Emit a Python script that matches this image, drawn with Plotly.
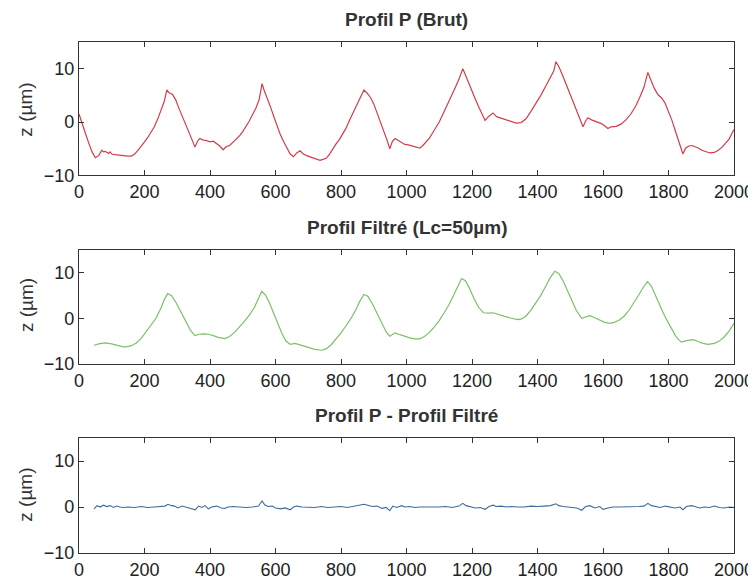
import plotly.graph_objects as go
from plotly.subplots import make_subplots

# ---------------- data ----------------
raw_x = [0, 5, 10, 20, 30, 40, 50, 60, 70, 75, 80, 90, 95, 100, 110, 120, 130, 140, 150, 160,
         170, 180, 190, 200, 210, 220, 230, 240, 250, 260, 268, 275, 285, 295, 305, 315, 325, 335,
         345, 354, 362, 369, 380, 390, 400, 410, 420, 430, 440, 450, 460, 470, 480, 490, 500, 510,
         520, 530, 540, 550, 559, 565, 575, 585, 595, 605, 615, 625, 635, 645, 655, 665, 675, 685,
         695, 705, 715, 725, 736, 745, 755, 765, 775, 785, 795, 805, 815, 825, 835, 845, 855, 862,
         870, 880, 890, 900, 910, 920, 930, 940, 949, 957, 965, 975, 985, 995, 1005, 1015, 1025,
         1035, 1041, 1050, 1060, 1070, 1080, 1090, 1100, 1110, 1120, 1130, 1140, 1150, 1160, 1172,
         1180, 1190, 1200, 1210, 1220, 1230, 1240, 1250, 1264, 1275, 1290, 1305, 1320, 1335, 1350,
         1365, 1380, 1395, 1410, 1425, 1440, 1450, 1456, 1465, 1475, 1485, 1495, 1505, 1515, 1525,
         1539, 1547, 1554, 1565, 1580, 1595, 1605, 1615, 1625, 1640, 1655, 1670, 1685, 1700, 1712,
         1725, 1737, 1745, 1756, 1768, 1779, 1789, 1800, 1810, 1820, 1829, 1837, 1844, 1852, 1862,
         1872, 1882, 1892, 1902, 1914, 1926, 1940, 1952, 1964, 1975, 1985, 1993, 2000]
raw_z = [1.5, 0.5, -0.5, -2.2, -4.0, -5.6, -6.7, -6.3, -5.3, -5.6, -5.5, -5.9, -5.6, -6.0, -6.1,
         -6.2, -6.3, -6.3, -6.4, -6.4, -6.0, -5.3, -4.6, -3.7, -2.9, -1.9, -0.9, 0.5, 2.0, 3.8, 6.0,
         5.5, 5.2, 4.2, 2.6, 1.2, -0.3, -1.6, -3.3, -4.7, -3.6, -3.1, -3.4, -3.5, -3.7, -3.6, -4.0,
         -4.5, -5.2, -4.6, -4.4, -3.8, -3.3, -2.6, -1.8, -0.9, 0.2, 1.4, 2.6, 4.2, 7.2, 6.0, 4.5,
         2.8, 1.0, -0.8, -2.4, -3.7, -5.0, -6.0, -6.5, -5.8, -5.4, -6.0, -6.3, -6.5, -6.8, -7.0,
         -7.2, -7.0, -6.8, -6.0, -5.0, -4.1, -3.3, -2.3, -1.2, 0.2, 1.5, 2.8, 4.0, 5.0, 6.0, 5.4,
         4.6, 3.4, 1.8, 0.2, -1.6, -3.3, -5.0, -3.6, -3.1, -3.5, -3.9, -4.2, -4.3, -4.5, -4.7, -4.8,
         -4.9, -4.4, -3.8, -3.0, -2.0, -1.0, 0.0, 1.3, 2.6, 3.7, 5.0, 6.6, 8.0, 10.0, 8.8, 7.2, 5.8,
         4.3, 2.9, 1.5, 0.3, 1.0, 1.7, 1.0, 0.7, 0.4, 0.1, -0.2, -0.1, 0.6, 2.0, 3.4, 5.0, 6.7, 8.6,
         9.6, 11.3, 10.4, 9.0, 7.5, 6.0, 4.4, 2.8, 1.2, -0.9, 0.2, 0.8, 0.4, 0.1, -0.3, -0.7, -1.2,
         -0.9, -0.8, -0.4, 0.4, 1.5, 3.0, 4.6, 6.5, 9.3, 8.0, 6.4, 5.1, 4.5, 3.6, 2.0, 0.4, -1.5,
         -3.3, -4.8, -6.0, -4.9, -4.5, -4.4, -4.6, -4.9, -5.3, -5.6, -5.8, -5.7, -5.3, -4.7, -4.0,
         -3.2, -2.2, -1.4]

filt_x = [46, 60, 79, 100, 120, 140, 160, 175, 190, 205, 220, 235, 250, 262, 271, 282, 295, 310,
          325, 340, 354, 367, 380, 395, 410, 425, 446, 460, 475, 490, 505, 520, 535, 548, 558, 570,
          582, 595, 608, 620, 632, 645, 660, 675, 690, 705, 720, 741, 755, 770, 785, 800, 815, 830,
          845, 858, 870, 882, 895, 910, 925, 938, 949, 965, 980, 995, 1010, 1025, 1041, 1055, 1070,
          1085, 1100, 1115, 1130, 1145, 1158, 1168, 1180, 1192, 1205, 1220, 1235, 1250, 1264, 1280,
          1300, 1320, 1340, 1352, 1365, 1380, 1395, 1410, 1425, 1440, 1453, 1465, 1478, 1490, 1503,
          1518, 1535, 1550, 1560, 1575, 1590, 1605, 1620, 1635, 1650, 1665, 1680, 1695, 1710, 1724,
          1736, 1748, 1760, 1772, 1785, 1798, 1810, 1822, 1832, 1840, 1855, 1875, 1890, 1905, 1921,
          1940, 1955, 1970, 1985, 2000]
filt_z = [-5.9, -5.6, -5.4, -5.6, -6.0, -6.3, -6.0, -5.4, -4.4, -3.0, -1.6, 0.0, 2.2, 4.3, 5.4, 5.0,
          3.6, 1.5, -0.6, -2.6, -3.8, -3.5, -3.4, -3.5, -3.8, -4.2, -4.45, -4.0, -3.1, -2.0, -0.7,
          0.7, 2.3, 4.3, 5.9, 5.0, 3.3, 1.0, -1.4, -3.4, -5.0, -5.7, -5.5, -5.8, -6.1, -6.4, -6.8,
          -7.0, -6.7, -5.8, -4.6, -3.2, -1.7, -0.1, 1.8, 3.8, 5.2, 4.8, 3.3, 1.2, -1.2, -3.0, -3.95,
          -3.2, -3.6, -4.0, -4.3, -4.5, -4.5, -4.0, -3.1, -1.9, -0.5, 1.2, 3.0, 5.2, 7.4, 8.7, 8.2,
          6.6, 4.5, 2.4, 1.2, 1.1, 1.2, 0.8, 0.4, 0.0, -0.3, -0.15, 0.5, 1.8, 3.3, 5.0, 7.0, 9.0,
          10.3, 9.8, 8.2, 6.3, 4.2, 1.8, 0.0, 0.4, 0.55, 0.1, -0.4, -0.9, -1.1, -0.9, -0.4, 0.5,
          1.8, 3.4, 5.2, 6.9, 8.0, 7.0, 5.0, 3.0, 1.0, -0.8, -2.5, -3.9, -4.8, -5.2, -4.9, -4.7,
          -5.1, -5.5, -5.7, -5.5, -5.0, -4.1, -2.8, -1.1]

diff_x = [46, 55, 65, 75, 85, 95, 105, 115, 125, 135, 150, 170, 190, 210, 230, 250, 262, 272, 282,
          292, 302, 315, 330, 345, 355, 365, 375, 385, 395, 405, 420, 435, 445, 455, 470, 490, 510,
          530, 548, 559, 567, 577, 590, 600, 615, 630, 645, 655, 665, 680, 700, 720, 740, 760, 780,
          800, 820, 840, 855, 870, 882, 895, 910, 925, 938, 949, 958, 970, 985, 995, 1010, 1025,
          1040, 1060, 1080, 1100, 1120, 1140, 1160, 1172, 1182, 1195, 1210, 1225, 1240, 1252, 1264,
          1275, 1290, 1305, 1320, 1340, 1360, 1380, 1400, 1420, 1440, 1456, 1465, 1478, 1490, 1505,
          1520, 1535, 1547, 1560, 1575, 1590, 1600, 1615, 1630, 1650, 1670, 1690, 1710, 1725, 1737,
          1748, 1760, 1775, 1790, 1805, 1820, 1835, 1844, 1855, 1870, 1880, 1895, 1910, 1925, 1940,
          1955, 1970, 1985, 2000]
diff_z = [-0.4, 0.3, 0.0, 0.4, 0.1, 0.3, -0.1, 0.2, 0.0, -0.1, 0.0, -0.1, 0.1, -0.1, 0.0, 0.1, 0.2,
          0.6, 0.3, 0.2, -0.2, 0.2, -0.1, -0.3, -0.6, 0.2, -0.1, 0.3, -0.4, 0.0, 0.2, -0.2, -0.3,
          0.0, 0.1, 0.0, -0.1, 0.0, 0.2, 1.3, 0.5, 0.1, 0.2, -0.2, -0.4, -0.2, -0.6, 0.0, 0.2, 0.0,
          0.0, -0.1, 0.1, -0.1, 0.0, 0.1, -0.1, 0.2, 0.3, 0.6, 0.4, 0.1, 0.2, -0.3, -0.1, -0.8, 0.2,
          -0.1, 0.3, 0.0, 0.1, -0.1, 0.0, 0.0, -0.1, 0.0, 0.1, -0.1, 0.2, 0.8, 0.3, 0.0, -0.2, -0.1,
          -0.5, 0.1, 0.4, 0.1, 0.2, 0.0, 0.1, 0.0, 0.0, 0.2, 0.1, 0.2, 0.3, 0.7, 0.3, 0.1, 0.0,
          -0.1, -0.2, -0.7, 0.1, 0.3, -0.2, 0.1, -0.5, -0.2, 0.0, 0.0, 0.0, 0.0, 0.1, 0.2, 0.8, 0.3,
          0.1, -0.1, 0.2, 0.0, -0.2, 0.0, -0.6, 0.1, 0.3, 0.1, -0.2, 0.0, -0.1, 0.2, -0.1, -0.2,
          0.0, -0.1]

titles = ["Profil P (Brut)", "Profil Filtré (Lc=50µm)", "Profil P - Profil Filtré"]
x_ticks = [0, 200, 400, 600, 800, 1000, 1200, 1400, 1600, 1800, 2000]
y_ticks = [-10, 0, 10]
y_label = "z (µm)"

# ---------------- figure ----------------
fig = make_subplots(rows=3, cols=1)
fig.add_trace(go.Scatter(x=raw_x, y=raw_z, mode="lines",
                         line=dict(color="#d43c48", width=1.2)), row=1, col=1)
fig.add_trace(go.Scatter(x=filt_x, y=filt_z, mode="lines",
                         line=dict(color="#7cc06a", width=1.2)), row=2, col=1)
fig.add_trace(go.Scatter(x=diff_x, y=diff_z, mode="lines",
                         line=dict(color="#3e6c9c", width=1.1)), row=3, col=1)

domains = [[0.739, 1.0], [0.370, 0.5935], [0.0, 0.225]]
font_fam = "Liberation Sans, Arial, sans-serif"
axis_common = dict(showgrid=False, zeroline=False, showline=True, mirror="ticks",
                   linecolor="#333333", linewidth=1.3, ticks="inside", ticklen=5,
                   tickcolor="#333333", automargin=False,
                   tickfont=dict(family=font_fam, size=18, color="#222222"))
for i in range(3):
    xa = "xaxis" if i == 0 else f"xaxis{i+1}"
    ya = "yaxis" if i == 0 else f"yaxis{i+1}"
    fig.layout[xa].update(range=[0, 2000], tickvals=x_ticks, domain=[0, 1], **axis_common)
    fig.layout[ya].update(range=[-10, 15], tickvals=y_ticks, domain=domains[i], **axis_common)

title_y = [1.0446, 0.6376, 0.2697]
label_y = [0.8675, 0.485, 0.114]
for i in range(3):
    fig.add_annotation(text=f"<b>{titles[i]}</b>", x=0.5, y=title_y[i], xref="paper", yref="paper",
                       showarrow=False, xanchor="center", yanchor="middle",
                       font=dict(family=font_fam, size=19, color="#333333"))
    fig.add_annotation(text=y_label, x=-0.081, y=label_y[i], xref="paper", yref="paper",
                       showarrow=False, textangle=-90, xanchor="center", yanchor="middle",
                       font=dict(family=font_fam, size=19, color="#333333"))

# page body has an 8px margin: shrink the figure so it fits the 756x580 window
fig.update_layout(width=748, height=572, showlegend=False,
                  margin=dict(l=71, r=22, t=34, b=27),
                  plot_bgcolor="white", paper_bgcolor="white")
fig.write_html("out.html")
